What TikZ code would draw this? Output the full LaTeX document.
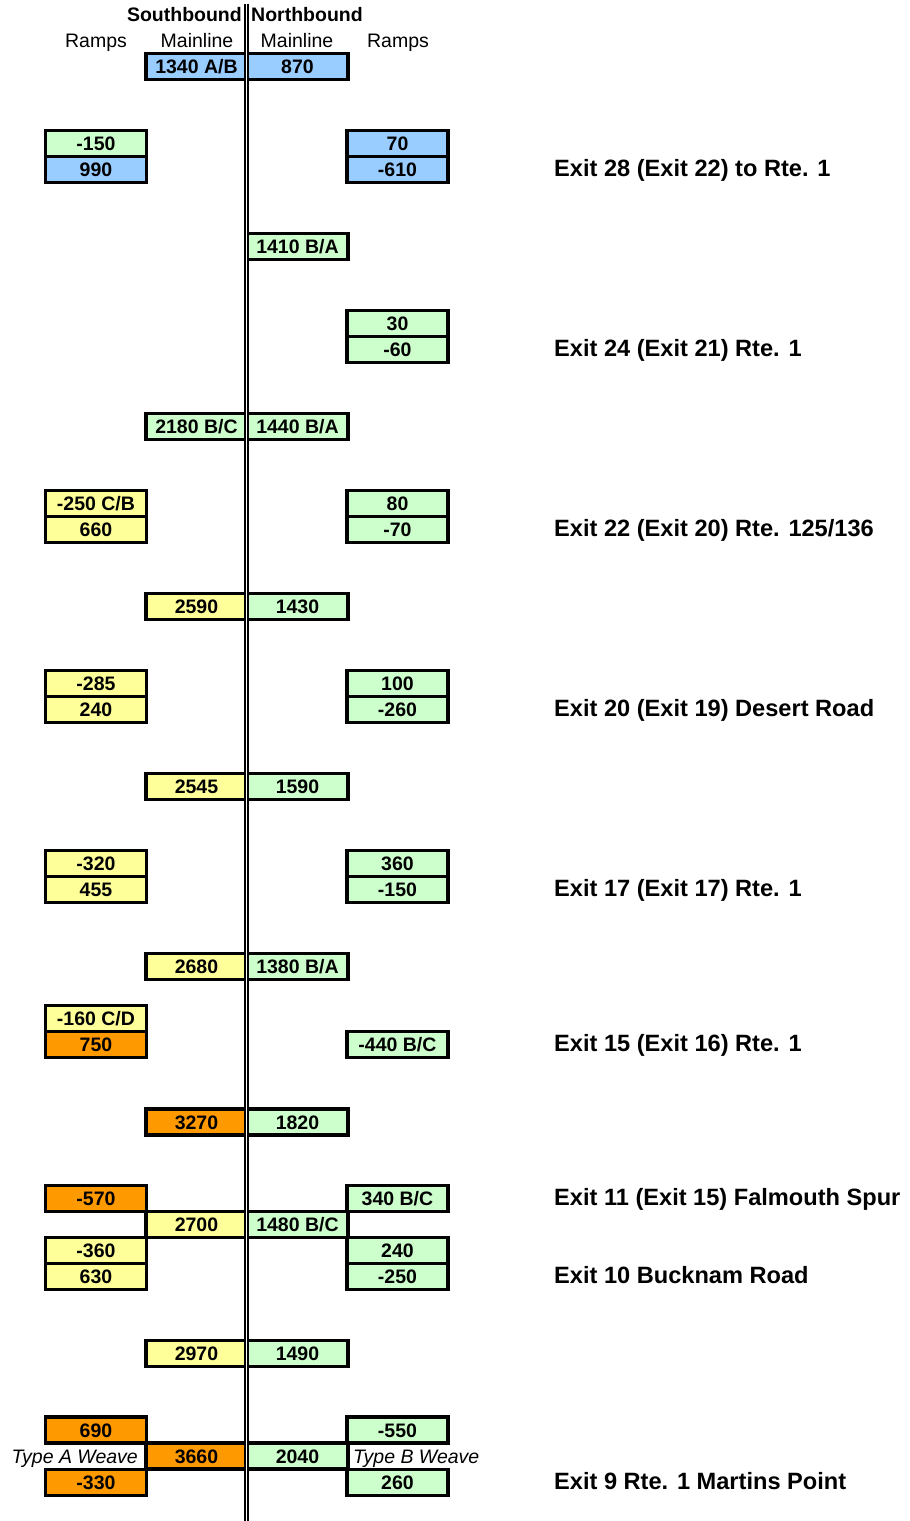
\documentclass[tikz,border=0pt]{standalone}
\usepackage{fontspec}
\setmainfont{Liberation Sans}
\definecolor{cblue}{HTML}{99CCFF}
\definecolor{cgreen}{HTML}{CCFFCC}
\definecolor{cyellow}{HTML}{FFFF99}
\definecolor{corange}{HTML}{FF9900}
\begin{document}
\begin{tikzpicture}[x=1pt,y=-1pt,
  cell/.style={draw=black, line width=3.5pt, minimum width=101pt, minimum height=26pt,
    inner sep=0pt, outer sep=0pt, text height=14pt, text depth=0pt,
    font=\fontsize{19.5}{22}\selectfont\bfseries},
  B/.style={cell, fill=cblue},
  G/.style={cell, fill=cgreen},
  Y/.style={cell, fill=cyellow},
  O/.style={cell, fill=corange},
  head/.style={inner sep=0pt, font=\fontsize{19.5}{22}\selectfont\bfseries},
  sub/.style={inner sep=0pt, font=\fontsize{19.5}{22}\selectfont},
  weave/.style={inner sep=0pt, font=\fontsize{19.5}{22}\selectfont\itshape},
  exitlbl/.style={inner sep=0pt, anchor=base west,
    font=\fontsize{23.6}{26}\selectfont\bfseries}]
\useasboundingbox (0,0) rectangle (910,1521);
% headers
\node[head, anchor=base east] (hsb) at (242,21) {Southbound};
\node[head, anchor=base west] (hnb) at (251,21) {Northbound};
\node[sub, anchor=base] (hr1) at (96,47) {Ramps};
\node[sub, anchor=base] (hm1) at (197,47) {Mainline};
\node[sub, anchor=base] (hm2) at (297,47) {Mainline};
\node[sub, anchor=base] (hr2) at (398,47) {Ramps};
% columns: 96, 196.5, 297.5, 397.5
\node[B] (m1s) at (196.5,66.5) {1340 A/B};
\node[B] (m1n) at (297.5,66.5) {870};
\node[G] (r1a) at (96,143.5) {-150};
\node[B] (r1b) at (96,169.5) {990};
\node[B] (r1c) at (397.5,143.5) {70};
\node[B] (r1d) at (397.5,169.5) {-610};
\node[G] (m2n) at (297.5,246.5) {1410 B/A};
\node[G] (r2c) at (397.5,323.5) {30};
\node[G] (r2d) at (397.5,349.5) {-60};
\node[G] (m3s) at (196.5,426.5) {2180 B/C};
\node[G] (m3n) at (297.5,426.5) {1440 B/A};
\node[Y] (r3a) at (96,503.5) {-250 C/B};
\node[Y] (r3b) at (96,529.5) {660};
\node[G] (r3c) at (397.5,503.5) {80};
\node[G] (r3d) at (397.5,529.5) {-70};
\node[Y] (m4s) at (196.5,606.5) {2590};
\node[G] (m4n) at (297.5,606.5) {1430};
\node[Y] (r4a) at (96,683.5) {-285};
\node[Y] (r4b) at (96,709.5) {240};
\node[G] (r4c) at (397.5,683.5) {100};
\node[G] (r4d) at (397.5,709.5) {-260};
\node[Y] (m5s) at (196.5,786.5) {2545};
\node[G] (m5n) at (297.5,786.5) {1590};
\node[Y] (r5a) at (96,863.5) {-320};
\node[Y] (r5b) at (96,889.5) {455};
\node[G] (r5c) at (397.5,863.5) {360};
\node[G] (r5d) at (397.5,889.5) {-150};
\node[Y] (m6s) at (196.5,966.5) {2680};
\node[G] (m6n) at (297.5,966.5) {1380 B/A};
\node[Y] (r6a) at (96,1018.5) {-160 C/D};
\node[O] (r6b) at (96,1044.5) {750};
\node[G] (r6d) at (397.5,1044.5) {-440 B/C};
\node[O] (m7s) at (196.5,1122) {3270};
\node[G] (m7n) at (297.5,1122) {1820};
\node[O] (r7a) at (96,1198.5) {-570};
\node[G] (r7c) at (397.5,1198.5) {340 B/C};
\node[Y] (m8s) at (196.5,1224.5) {2700};
\node[G] (m8n) at (297.5,1224.5) {1480 B/C};
\node[Y] (r8a) at (96,1250.5) {-360};
\node[Y] (r8b) at (96,1276.5) {630};
\node[G] (r8c) at (397.5,1250.5) {240};
\node[G] (r8d) at (397.5,1276.5) {-250};
\node[Y] (m9s) at (196.5,1353.5) {2970};
\node[G] (m9n) at (297.5,1353.5) {1490};
\node[O] (r9a) at (96,1430) {690};
\node[G] (r9c) at (397.5,1430) {-550};
\node[O] (m10s) at (196.5,1456) {3660};
\node[G] (m10n) at (297.5,1456) {2040};
\node[O] (r9b) at (96,1482.5) {-330};
\node[G] (r9d) at (397.5,1482.5) {260};
\node[weave, anchor=base east] (wa) at (138,1463) {Type A Weave};
\node[weave, anchor=base west] (wb) at (353,1463) {Type B Weave};
% median double line
\coordinate (dtop) at (246.7,4);
\coordinate (dbot) at (246.7,1521);
\draw[line width=1.7pt, double=white, double distance=1.4pt] (dtop) -- (dbot);
% exit labels
\node[exitlbl] (e1) at (554,176.5) {Exit 28 (Exit 22) to Rte. 1};
\node[exitlbl] (e2) at (554,356.5) {Exit 24 (Exit 21) Rte. 1};
\node[exitlbl] (e3) at (554,536.5) {Exit 22 (Exit 20) Rte. 125/136};
\node[exitlbl] (e4) at (554,716.5) {Exit 20 (Exit 19) Desert Road};
\node[exitlbl] (e5) at (554,896.5) {Exit 17 (Exit 17) Rte. 1};
\node[exitlbl] (e6) at (554,1051.5) {Exit 15 (Exit 16) Rte. 1};
\node[exitlbl] (e7) at (554,1205.5) {Exit 11 (Exit 15) Falmouth Spur};
\node[exitlbl] (e8) at (554,1283.5) {Exit 10 Bucknam Road};
\node[exitlbl] (e9) at (554,1489.5) {Exit 9 Rte. 1 Martins Point};
\end{tikzpicture}
\end{document}
